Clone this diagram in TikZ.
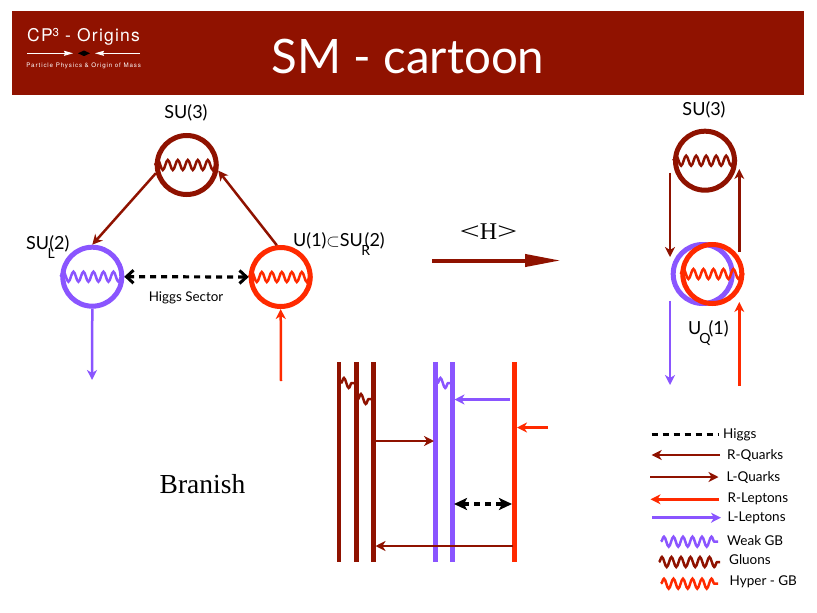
\documentclass[tikz,border=0pt]{standalone}
\usepackage{fontspec}
\setmainfont{Lato}
\newfontfamily\serifface{Liberation Serif}
\newfontfamily\logoface[LetterSpace=7]{TeX Gyre Heros}
\newfontfamily\tagface[LetterSpace=14]{TeX Gyre Heros}
\usetikzlibrary{arrows.meta,decorations.pathmorphing}
\definecolor{hdr}{HTML}{901200}
\definecolor{gluon}{HTML}{8F1200}
\definecolor{weak}{HTML}{8A55FF}
\definecolor{hyper}{HTML}{FF2A00}
\newcommand{\subL}[2]{\raisebox{-9pt}{\fontsize{14}{16}\selectfont\hspace{#1}#2}\hspace{-5.5pt}}
\tikzset{
  x=1pt,y=-1pt,
  ring/.style={circle,draw=#1,line width=5pt,minimum size=59pt,inner sep=0pt,outer sep=2.5pt},
  wig/.style={#1,line width=2.5pt,decorate,decoration={snake,segment length=10pt,amplitude=5pt}},
  wigsmall/.style={#1,line width=2.5pt,decorate,decoration={snake,segment length=9.5pt,amplitude=5pt}},
  tip/.style={-{Stealth[length=10pt,width=10pt,inset=3pt]}},
  arr/.style={tip,#1,line width=2.5pt},
  brane/.style={line width=#1},
  hig/.style={black,line width=3.2pt,dash pattern=on 6pt off 5pt},
  higarr/.style={hig,{Straight Barb[length=7pt,width=13pt,line width=3pt]}-{Straight Barb[length=7pt,width=13pt,line width=3pt]}},
  lab/.style={inner sep=0pt,font=\fontsize{18}{20}\selectfont,text=black},
  leg/.style={inner sep=0pt,anchor=west,font=\fontsize{13.5}{15}\selectfont,text=black},
}
\begin{document}
\begin{tikzpicture}
\useasboundingbox (0,0) rectangle (817,613);
% header
\node[fill=hdr,minimum width=792pt,minimum height=84pt,inner sep=0pt,anchor=north west] (bar) at (12,11) {};
\node[inner sep=0pt,text=white,font=\fontsize{47.5}{52}\selectfont] (title) at (408,56) {SM - cartoon};
\node[inner sep=0pt,anchor=base west,text=white,font=\logoface\fontsize{17.5}{19}\selectfont] (logo) at (27,41.5) {CP\raisebox{5.5pt}{\fontsize{11.5}{12}\selectfont 3} - Origins};
\node[inner sep=0pt,text=white,font=\tagface\fontsize{6.2}{7}\selectfont] (tag) at (83.7,66) {Particle Physics \& Origin of Mass};
\coordinate (l1) at (27,53.3);\coordinate (l2) at (73,53.3);
\coordinate (l3) at (140,53.3);\coordinate (l4) at (95,53.3);
\draw[white,line width=0.8pt,-{Stealth[length=9pt,width=5pt,inset=1pt]}] (l1) -- (l2);
\draw[white,line width=0.8pt,-{Stealth[length=9pt,width=5pt,inset=1pt]}] (l3) -- (l4);
\fill[black] (78,53.3) -- (84,50.5) -- (90,53.3) -- (84,56.1) -- cycle;
% left triangle
\node[ring=gluon] (g) at (186.7,165) {};
\node[ring=weak] (w) at (92.3,276.7) {};
\node[ring=hyper] (h) at (280.7,277) {};
\draw[wig=gluon] (g.west) -- (g.east);
\draw[wig=weak] (w.west) -- (w.east);
\draw[wig=hyper] (h.west) -- (h.east);
\draw[arr=gluon] (g.195) -- (w.north);
\draw[arr=gluon] (h.97) -- (g.-10);
\draw[higarr] (w.east) -- (h.west);
\coordinate (wend) at (92,380);
\coordinate (hstart) at (281,381);
\draw[arr=weak] (w.south) -- (wend);
\draw[arr=hyper] (hstart) -- (h.south);
\node[lab] (su3a) at (186,113) {SU(3)};
\node[lab,anchor=base west] (sul) at (26,249) {SU\subL{-1.5pt}{L}(2)};
\node[lab,anchor=base west] (u1) at (293,246) {U(1)$\subset$SU\subL{-1.5pt}{R}(2)};
\node[inner sep=0pt,font=\fontsize{13.4}{15}\selectfont] (hs) at (186,297.5) {Higgs Sector};
% <H>
\node[inner sep=0pt,font=\serifface\fontsize{24}{26}\selectfont] (vev) at (488.5,232) {\scalebox{1.5}[1]{<}H\scalebox{1.5}[1]{>}};
\coordinate (b1) at (432,260.5);\coordinate (b2) at (561,260.5);
\draw[gluon,line width=4pt,-{Stealth[length=36pt,width=12pt,inset=0pt]}] (b1) -- (b2);
% right
\node[ring=gluon] (g2) at (705,160.7) {};
\node[ring=weak] (w2) at (702.7,274) {};
\node[ring=hyper] (h2) at (712.3,274) {};
\draw[wig=gluon] (g2.west) -- (g2.east);
\draw[wig=hyper] (h2.west) -- (h2.east);
\node[lab] (su3b) at (704,110) {SU(3)};
\node[lab,anchor=base west] (uq) at (688,334) {U\subL{-2pt}{Q}\hspace{3.5pt}(1)};
\coordinate (r1) at (670,172.7);\coordinate (r2) at (670,257);
\coordinate (r3) at (739.3,251.7);\coordinate (r4) at (739.3,169);
\coordinate (r5) at (670,300.7);\coordinate (r6) at (670,385);
\coordinate (r7) at (739.3,386);\coordinate (r8) at (739.3,302);
\draw[arr=gluon] (r1) -- (r2);
\draw[arr=gluon] (r3) -- (r4);
\draw[arr=weak] (r5) -- (r6);
\draw[arr=hyper] (r7) -- (r8);
% branes
\foreach \n/\x/\c/\t in {a/339.3/gluon/4pt,b/356.7/gluon/5pt,c/373/gluon/5pt,d/435.7/weak/5pt,e/452/weak/5pt,f/514.5/hyper/5pt}{
  \coordinate (\n1) at (\x,362);
  \coordinate (\n2) at (\x,562);
  \draw[draw=\c,brane=\t] (\n1) -- (\n2);
}
\coordinate (wa1) at (341,383);\coordinate (wa2) at (355,383);
\coordinate (wb1) at (358,399);\coordinate (wb2) at (371,399);
\coordinate (wd1) at (437.5,383);\coordinate (wd2) at (450.5,383);
\draw[wigsmall=gluon] (wa1) -- (wa2);
\draw[wigsmall=gluon] (wb1) -- (wb2);
\draw[wigsmall=weak] (wd1) -- (wd2);
\coordinate (c1) at (510,399.5);\coordinate (c2) at (454.5,399.5);
\coordinate (c3) at (548,427.5);\coordinate (c4) at (517,427.5);
\coordinate (c5) at (375.5,441);\coordinate (c6) at (434,441);
\coordinate (c7) at (454,504);\coordinate (c8) at (512,504);
\coordinate (c9) at (513,546);\coordinate (c10) at (375.5,546);
\draw[arr=weak] (c1) -- (c2);
\draw[arr=hyper] (c3) -- (c4);
\draw[arr=gluon] (c5) -- (c6);
\draw[hig,{Stealth[length=13pt,width=12pt,inset=3pt]}-{Stealth[length=13pt,width=12pt,inset=3pt]}] (c7) -- (c8);
\draw[arr=gluon] (c9) -- (c10);
\node[inner sep=0pt,font=\serifface\fontsize{27.5}{30}\selectfont] (br) at (202.5,484) {Branish};
% legend
\coordinate (k1) at (651.7,434.7);\coordinate (k2) at (719,434.7);
\draw[hig] (k1) -- (k2);
\node[leg] (t1) at (723,434.7) {Higgs};
\coordinate (k3) at (720,455);\coordinate (k4) at (651.7,455);
\draw[arr=gluon] (k3) -- (k4);
\node[leg] (t2) at (727,456) {R-Quarks};
\coordinate (k5) at (650,477);\coordinate (k6) at (718.5,477);
\draw[arr=gluon] (k5) -- (k6);
\node[leg] (t3) at (726.5,477.5) {L-Quarks};
\coordinate (k7) at (719,499.3);\coordinate (k8) at (650.5,499.3);
\draw[arr=hyper] (k7) -- (k8);
\node[leg] (t4) at (727.5,499.3) {R-Leptons};
\coordinate (k9) at (652,517.7);\coordinate (k10) at (721,517.7);
\draw[arr=weak] (k9) -- (k10);
\node[leg] (t5) at (727.5,517.7) {L-Leptons};
\coordinate (k11) at (661,541.7);\coordinate (k12) at (718,541.7);
\draw[wigsmall=weak] (k11) -- (k12);
\node[leg] (t6) at (727,541) {Weak GB};
\coordinate (k13) at (659,562);\coordinate (k14) at (720,562);
\draw[wigsmall=gluon] (k13) -- (k14);
\node[leg] (t7) at (729,560) {Gluons};
\coordinate (k15) at (661,583.7);\coordinate (k16) at (718,583.7);
\draw[wigsmall=hyper] (k15) -- (k16);
\node[leg] (t8) at (729.5,582) {Hyper - GB};
\end{tikzpicture}
\end{document}
